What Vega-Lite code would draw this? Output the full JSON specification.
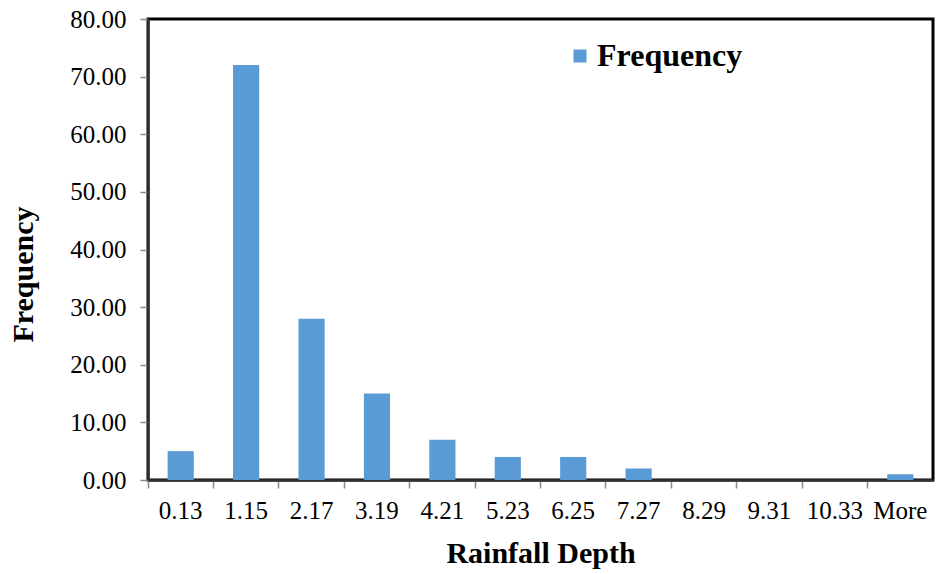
{
  "$schema": "https://vega.github.io/schema/vega-lite/v6.json",
  "width": 785,
  "height": 461,
  "autosize": "none",
  "padding": {"left": 148, "top": 19, "right": 3, "bottom": 94},
  "background": "white",
  "config": {
    "view": {"stroke": "black", "strokeWidth": 3},
    "font": "Liberation Serif",
    "axis": {"labelFont": "Liberation Serif", "titleFont": "Liberation Serif"},
    "legend": {"labelFont": "Liberation Serif"}
  },
  "data": {
    "values": [
      {"bin": "0.13", "freq": 5, "s": "Frequency"},
      {"bin": "1.15", "freq": 72, "s": "Frequency"},
      {"bin": "2.17", "freq": 28, "s": "Frequency"},
      {"bin": "3.19", "freq": 15, "s": "Frequency"},
      {"bin": "4.21", "freq": 7, "s": "Frequency"},
      {"bin": "5.23", "freq": 4, "s": "Frequency"},
      {"bin": "6.25", "freq": 4, "s": "Frequency"},
      {"bin": "7.27", "freq": 2, "s": "Frequency"},
      {"bin": "8.29", "freq": 0, "s": "Frequency"},
      {"bin": "9.31", "freq": 0, "s": "Frequency"},
      {"bin": "10.33", "freq": 0, "s": "Frequency"},
      {"bin": "More", "freq": 1, "s": "Frequency"}
    ]
  },
  "mark": {"type": "bar", "width": {"band": 0.4}},
  "encoding": {
    "x": {
      "field": "bin",
      "type": "ordinal",
      "sort": null,
      "scale": {"paddingInner": 0, "paddingOuter": 0},
      "axis": {
        "title": "Rainfall Depth",
        "titleFont": "Liberation Serif",
        "titleFontSize": 30,
        "titleFontWeight": "bold",
        "titleColor": "black",
        "titlePadding": 15,
        "labelFont": "Liberation Serif",
        "labelFontSize": 25,
        "labelFontWeight": "normal",
        "labelColor": "black",
        "labelAngle": 0,
        "labelPadding": 10,
        "labelOverlap": false,
        "labelFlush": false,
        "bandPosition": 0,
        "tickColor": "#888888",
        "tickSize": 8,
        "tickWidth": 1.5,
        "domainColor": "#333333",
        "domainWidth": 2.5,
        "grid": false
      }
    },
    "y": {
      "field": "freq",
      "type": "quantitative",
      "scale": {"domain": [0, 80], "nice": false},
      "axis": {
        "title": "Frequency",
        "titleFont": "Liberation Serif",
        "titleFontSize": 30,
        "titleFontWeight": "bold",
        "titleColor": "black",
        "titleY": 255,
        "titlePadding": 31,
        "values": [0, 10, 20, 30, 40, 50, 60, 70, 80],
        "format": ".2f",
        "labelFont": "Liberation Serif",
        "labelFontSize": 25,
        "labelColor": "black",
        "labelPadding": 14,
        "tickColor": "#888888",
        "tickSize": 8,
        "tickWidth": 1.5,
        "domainColor": "#333333",
        "domainWidth": 2.5,
        "grid": false
      }
    },
    "color": {
      "field": "s",
      "type": "nominal",
      "scale": {"range": ["#5B9BD5"]},
      "legend": {
        "title": null,
        "orient": "none",
        "legendX": 416,
        "legendY": 21,
        "symbolType": "square",
        "symbolSize": 169,
        "symbolStrokeWidth": 0,
        "symbolOpacity": 1,
        "labelFont": "Liberation Serif",
        "labelFontSize": 32,
        "labelFontWeight": "bold",
        "labelColor": "black",
        "labelOffset": 1
      }
    }
  }
}
